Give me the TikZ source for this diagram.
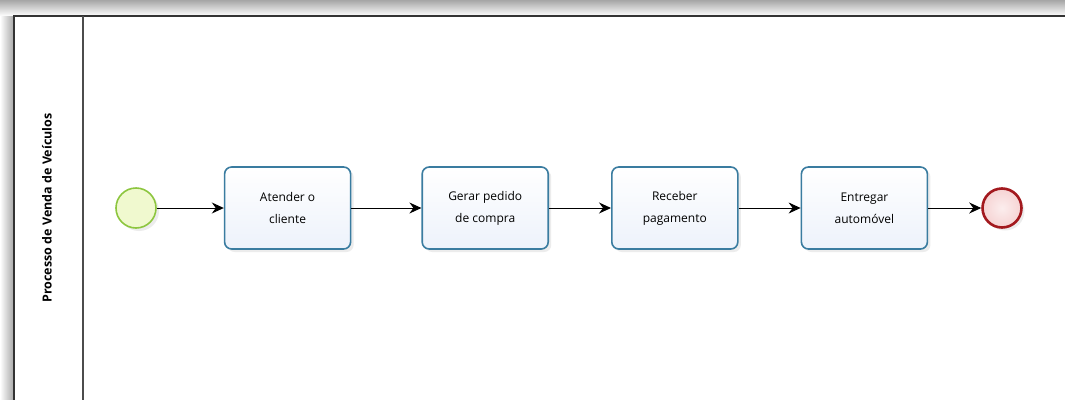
\documentclass[tikz,border=0pt]{standalone}
\usepackage{fontspec}
\setmainfont{Open Sans}
\usetikzlibrary{positioning,arrows.meta,shadows}

\definecolor{taskline}{HTML}{3A7CA0}
\definecolor{taskfill}{HTML}{EDF2FB}
\definecolor{startline}{HTML}{8DC63F}
\definecolor{startfill}{HTML}{F0F9CF}
\definecolor{endline}{HTML}{A3191E}
\definecolor{endfill}{HTML}{F6D3D3}

\tikzset{
  task/.style={draw=taskline, line width=1.6pt, rounded corners=7pt,
    top color=white, bottom color=taskfill, minimum width=126pt,
    minimum height=82pt, align=center, font=\fontsize{12}{22}\selectfont,
    drop shadow={opacity=0.15, shadow xshift=3pt, shadow yshift=-3pt}},
  startev/.style={circle, draw=startline, line width=1.6pt, fill=startfill,
    minimum size=40pt, inner sep=0pt,
    drop shadow={opacity=0.15, shadow xshift=3pt, shadow yshift=-3pt}},
  endev/.style={circle, draw=endline, line width=2.6pt,
    inner color=endfill!40, outer color=endfill, minimum size=39pt, inner sep=0pt,
    drop shadow={opacity=0.15, shadow xshift=3pt, shadow yshift=-3pt}},
  flow/.style={-{Stealth[length=12pt,width=11pt,inset=4pt]}, line width=1pt}
}

\begin{document}
\begin{tikzpicture}[x=1pt, y=-1pt]
  \useasboundingbox (0,0) rectangle (1065,399);
  % sombra da piscina
  \shade[top color=gray!70, bottom color=white] (0,0) rectangle (1065,16);
  \shade[left color=white, right color=gray!70] (0,16) rectangle (14,399);
  \fill[white] (14,16) rectangle (1065,399);
  \draw[gray!40!black, line width=1.6pt] (1066,16) -- (14,16) -- (14,400);
  \draw[gray!60!black, line width=1.4pt] (83,16) -- (83,400);
  \node[rotate=90, font=\fontsize{12.5}{14}\selectfont\bfseries] (pool) at (47,208)
    {Processo de Venda de Veículos};

  \node[startev] (inicio) at (136,208) {};
  \node[task, right=67pt of inicio] (atender) {Atender o\\cliente};
  \node[task, right=70pt of atender] (gerar) {Gerar pedido\\de compra};
  \node[task, right=62pt of gerar] (receber) {Receber\\pagamento};
  \node[task, right=62pt of receber] (entregar) {Entregar\\automóvel};
  \node[endev, right=53pt of entregar] (fim) {};

  \draw[flow] (inicio) -- (atender);
  \draw[flow] (atender) -- (gerar);
  \draw[flow] (gerar) -- (receber);
  \draw[flow] (receber) -- (entregar);
  \draw[flow] (entregar) -- (fim);
\end{tikzpicture}
\end{document}
